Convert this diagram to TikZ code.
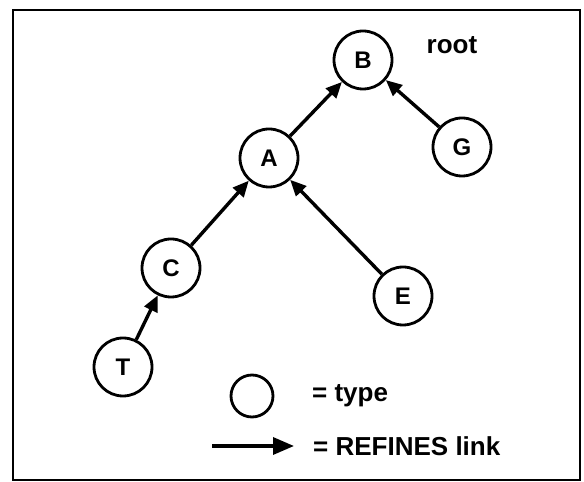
\documentclass[tikz,border=0pt]{standalone}
\usepackage{fontspec}
\setmainfont{Liberation Sans}
\usetikzlibrary{arrows.meta}
\begin{document}
\begin{tikzpicture}[x=1pt,y=1pt,
  typenode/.style={circle,draw,line width=2.8pt,minimum size=58pt,inner sep=0pt,
    font=\bfseries\fontsize{24}{28}\selectfont},
  refines/.style={line width=3.4pt,-{Triangle[length=16pt,width=14pt]}},
  lbl/.style={inner sep=0pt,anchor=west,font=\bfseries\fontsize{26}{30}\selectfont}]
\useasboundingbox (0,0) rectangle (584,482);
\draw[line width=2.2pt] (13,2) rectangle (580,472);
\node[typenode] (B) at (363,422) {B};
\node[typenode] (A) at (269,324) {A};
\node[typenode] (G) at (462,335) {G};
\node[typenode] (C) at (171,214) {C};
\node[typenode] (E) at (403,186) {E};
\node[typenode] (T) at (123,115) {T};
\node[inner sep=0pt,anchor=center,font=\bfseries\fontsize{26}{30}\selectfont] (root) at (452,437) {root};
\draw[refines] (A) -- (B);
\draw[refines] (G) -- (B);
\draw[refines] (C) -- (A);
\draw[refines] (E) -- (A);
\draw[refines] (T) -- (C);
% legend
\node[circle,draw,line width=2.8pt,minimum size=42pt,inner sep=0pt] (lc) at (252,86) {};
\node[lbl] (ltype) at (312,86) {=\ type};
\coordinate (la) at (212,36);
\coordinate (lb) at (294,36);
\draw[line width=3.4pt,-{Triangle[length=21pt,width=17pt]}] (la) -- (lb);
\node[lbl] (lref) at (313,36) {= REFINES link};
\end{tikzpicture}
\end{document}
